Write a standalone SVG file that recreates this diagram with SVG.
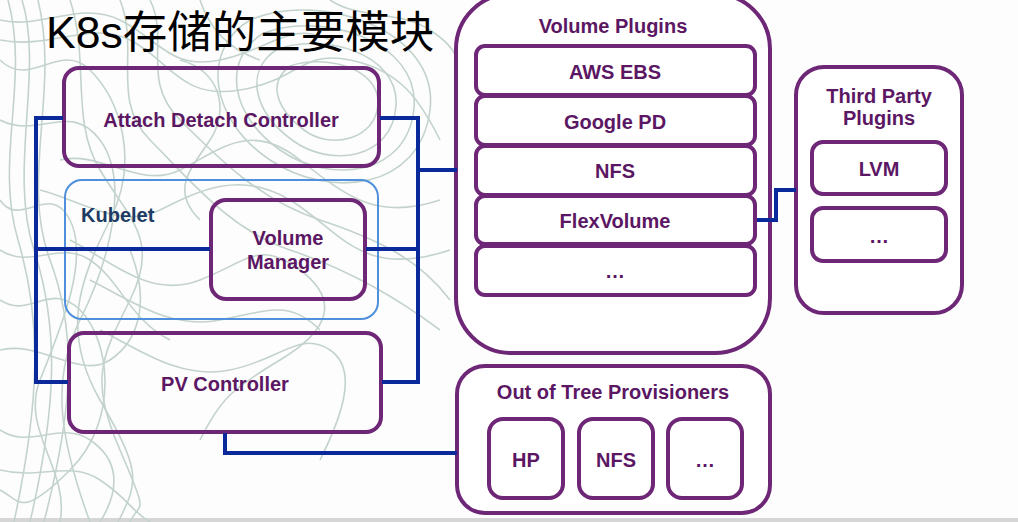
<svg xmlns="http://www.w3.org/2000/svg" width="1018" height="522" viewBox="0 0 1018 522">
<style>
.bg{fill:none;stroke:#c3d3cc;stroke-width:1.6}
.box{fill:#fff;stroke:#6e2676;stroke-width:4}
.boxt{fill:none;stroke:#6e2676;stroke-width:4}
.lbl{font-family:"Liberation Sans",Arial,sans-serif;font-weight:bold;font-size:20px;fill:#5b1763;text-anchor:middle}
.con{fill:none;stroke:#0a2a9c;stroke-width:4;stroke-linejoin:miter}
</style>
<rect width="1018" height="522" fill="#fdfdfd"/>
<rect x="0" y="518" width="1018" height="4" fill="#d6d6d6"/>
<g id="background-lines">
<path class="bg" d="M8 0 C30 80 -6 160 18 240 S40 400 14 522"/>
<path class="bg" d="M22 0 C44 70 8 170 34 250 S56 410 30 522"/>
<path class="bg" d="M38 0 C60 90 20 180 50 260 S70 420 44 522"/>
<path class="bg" d="M0 60 C30 90 60 40 90 70 S140 160 110 220 S60 330 100 400 S140 480 118 522"/>
<path class="bg" d="M0 120 C40 140 70 100 100 140 S110 260 80 320 S60 440 90 522"/>
<path class="bg" d="M0 200 C20 230 50 180 70 220 S60 330 40 380 S70 470 60 522"/>
<path class="bg" d="M0 300 C30 320 50 280 80 310 S120 420 70 470 S20 500 0 490"/>
<path class="bg" d="M0 350 C40 340 80 380 110 360 S150 300 130 250"/>
<path class="bg" d="M0 430 C30 450 60 420 90 440 S120 490 100 522"/>
<path class="bg" d="M0 20 C40 30 80 0 120 20 S170 70 220 60 S290 20 330 40"/>
<path class="bg" d="M0 40 C50 50 90 20 130 40 S180 100 240 90 S300 50 350 60 S420 100 440 140"/>
<path class="bg" d="M250 20 C320 -10 440 30 430 110 S330 200 270 160 S200 50 250 20 Z"/>
<path class="bg" d="M262 34 C320 10 420 40 414 108 S330 185 280 150 S222 60 262 34 Z"/>
<path class="bg" d="M276 50 C320 32 400 52 396 106 S330 168 292 140 S244 72 276 50 Z"/>
<path class="bg" d="M290 66 C325 54 380 68 378 104 S330 150 304 130 S266 84 290 66 Z"/>
<path class="bg" d="M150 0 C170 40 140 80 180 120 S260 200 320 220 S420 260 450 300"/>
<path class="bg" d="M120 0 C140 50 110 100 150 140 S230 230 290 250 S400 300 440 330"/>
<path class="bg" d="M200 0 C210 30 230 50 260 60"/>
<path class="bg" d="M60 160 C100 150 140 190 180 170 S250 120 300 160 S380 220 440 200"/>
<path class="bg" d="M40 190 C80 200 120 230 160 210 S240 170 290 200 S360 280 450 250"/>
<path class="bg" d="M70 240 C110 260 150 300 200 280 S260 240 300 270 S330 330 280 360 S220 400 200 440"/>
<path class="bg" d="M90 280 C130 300 170 330 220 320 S290 300 320 330"/>
<path class="bg" d="M100 330 C140 350 180 380 230 370 S300 330 330 350 S340 420 320 460"/>
<path class="bg" d="M0 250 C30 270 60 240 90 260 S130 320 170 340"/>
<path class="bg" d="M70 0 C90 60 70 120 100 170 S160 240 130 300 S90 380 120 450 S140 500 130 522"/>
<path class="bg" d="M0 470 C40 480 70 460 100 480 S130 510 150 522"/>
<path class="bg" d="M330 0 C360 20 400 10 430 30 S460 60 455 90"/>
<path class="bg" d="M180 60 C220 70 230 110 210 140 S170 190 200 220"/>
</g>
<text x="46" y="48" font-family="'Liberation Sans','Noto Sans CJK SC',sans-serif" font-size="44.5" fill="#000">K8s存储的主要模块</text>
<g id="kubelet">
<rect x="65" y="180" width="313" height="139" rx="17" fill="none" stroke="#4f8fdb" stroke-width="2"/>
<text x="81" y="222" font-family="'Liberation Sans',Arial,sans-serif" font-weight="bold" font-size="20" fill="#1d3a63">Kubelet</text>
</g>
<g id="attach-detach-controller">
<rect class="boxt" x="64" y="68" width="315" height="98" rx="15"/>
<text class="lbl" x="221" y="127">Attach Detach Controller</text>
</g>
<g id="volume-manager">
<rect class="boxt" x="211" y="200" width="154" height="99" rx="15"/>
<text class="lbl" x="288" y="245">Volume</text>
<text class="lbl" x="288" y="269">Manager</text>
</g>
<g id="pv-controller">
<rect class="boxt" x="69" y="333" width="312" height="99" rx="15"/>
<text class="lbl" x="225" y="391">PV Controller</text>
</g>
<g id="volume-plugins">
<rect class="box" x="456" y="-6" width="314" height="359" rx="55"/>
<text class="lbl" x="613" y="33">Volume Plugins</text>
</g>
<g id="aws-ebs"><rect class="box" x="476" y="46" width="279" height="49" rx="9"/><text class="lbl" x="615" y="79">AWS EBS</text></g>
<g id="google-pd"><rect class="box" x="476" y="96" width="279" height="49" rx="9"/><text class="lbl" x="615" y="129">Google PD</text></g>
<g id="nfs-plugin"><rect class="box" x="476" y="146" width="279" height="49" rx="9"/><text class="lbl" x="615" y="178">NFS</text></g>
<g id="flexvolume"><rect class="box" x="476" y="196" width="279" height="48" rx="9"/><text class="lbl" x="615" y="228">FlexVolume</text></g>
<g id="more-plugins"><rect class="box" x="476" y="246" width="279" height="49" rx="9"/><text class="lbl" x="615" y="278">…</text></g>
<g id="out-of-tree-provisioners">
<rect class="box" x="457" y="366" width="313" height="147" rx="28"/>
<text class="lbl" x="613" y="399">Out of Tree Provisioners</text>
</g>
<g id="hp"><rect class="box" x="489" y="419" width="74" height="79" rx="14"/><text class="lbl" x="526" y="467">HP</text></g>
<g id="nfs-prov"><rect class="box" x="579" y="419" width="74" height="79" rx="14"/><text class="lbl" x="616" y="467">NFS</text></g>
<g id="more-prov"><rect class="box" x="668" y="419" width="74" height="79" rx="14"/><text class="lbl" x="705" y="467">…</text></g>
<g id="third-party-plugins">
<rect class="box" x="796" y="67" width="166" height="246" rx="28"/>
<text class="lbl" x="879" y="103">Third Party</text>
<text class="lbl" x="879" y="125">Plugins</text>
</g>
<g id="lvm"><rect class="box" x="812" y="142" width="134" height="52" rx="11"/><text class="lbl" x="879" y="176">LVM</text></g>
<g id="more-third"><rect class="box" x="812" y="208" width="134" height="53" rx="11"/><text class="lbl" x="879" y="243">…</text></g>
<g id="connectors">
<path class="con" d="M63 118 H36 V382 H68"/>
<path class="con" d="M36 249 H210"/>
<path class="con" d="M380 118 H418 V382 H382"/>
<path class="con" d="M366 249 H418"/>
<path class="con" d="M418 170 H457"/>
<path class="con" d="M225 433 V453 H457"/>
<path class="con" d="M757 220 H776 V190 H796"/>
</g>
</svg>
